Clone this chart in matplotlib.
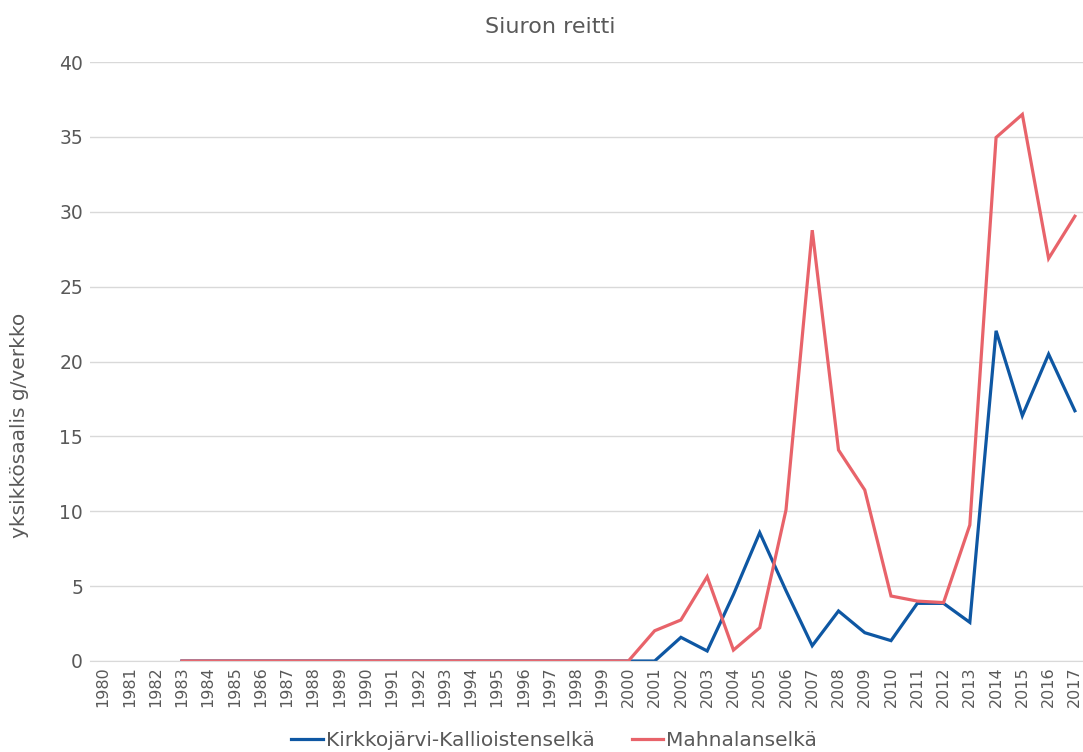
import numpy as np
import matplotlib
matplotlib.use("Agg")
import matplotlib.pyplot as plt

years = list(range(1980, 2018))

# 1980-1982 missing; values from 1983 on
kirkkojarvi = [None, None, None] + [0.0] * 17 + [
    0.0, 0.0, 1.58, 0.67, 4.44, 8.57, 4.7, 1.02, 3.34, 1.89,
    1.36, 3.85, 3.85, 2.58, 22.05, 16.38, 20.49, 16.71]
mahnala = [None, None, None] + [0.0] * 17 + [
    0.0, 2.02, 2.74, 5.63, 0.73, 2.22, 10.08, 28.77, 14.09, 11.42,
    4.34, 4.0, 3.9, 9.08, 34.96, 36.5, 26.88, 29.7]

title = "Siuron reitti"
ylabel = "yksikkösaalis g/verkko"
names = ["Kirkkojärvi-Kallioistenselkä", "Mahnalanselkä"]
colors = ["#0E57A3", "#E8636A"]
grey = "#595959"

plt.rcParams['font.family'] = ['DejaVu Sans']

fig = plt.figure(figsize=(10.83, 7.52), dpi=100)
ax = fig.add_axes([90 / 1083, 1 - 661 / 752, 998 / 1083, (661 - 62) / 752])

x = np.arange(len(years))
k = np.array([np.nan if v is None else v for v in kirkkojarvi])
m = np.array([np.nan if v is None else v for v in mahnala])
ax.plot(x, k, color=colors[0], lw=2.3, label=names[0], solid_joinstyle='miter')
ax.plot(x, m, color=colors[1], lw=2.3, label=names[1], solid_joinstyle='miter')

ax.set_xlim(-0.5, len(years) - 0.5)
ax.set_ylim(0, 40)
ax.set_yticks(range(0, 41, 5))
ax.set_xticks(x)
ax.set_xticklabels([str(y) for y in years], rotation=90, fontsize=11.5, color=grey)
ax.tick_params(axis='y', labelsize=13.5, labelcolor=grey, length=0, pad=5)
ax.tick_params(axis='x', length=0, pad=4)
ax.grid(axis='y', color='#D9D9D9', lw=1)
ax.set_axisbelow(True)
for s in ['top', 'right', 'left']:
    ax.spines[s].set_visible(False)
ax.spines['bottom'].set_color('#D9D9D9')

fig.text(550 / 1083, 1 - 27 / 752, title, ha='center', va='center', fontsize=16, color=grey)
fig.text(20 / 1083, 1 - 425 / 752, ylabel, ha='center', va='center', rotation=90,
         fontsize=14.5, color=grey)

fig.legend(loc='center', bbox_to_anchor=(554 / 1083, 1 - 741 / 752), ncol=2, frameon=False,
           fontsize=14.5, labelcolor=grey, handlelength=1.55, handletextpad=0.15,
           columnspacing=1.85)

fig.savefig("out.png", dpi=100)
